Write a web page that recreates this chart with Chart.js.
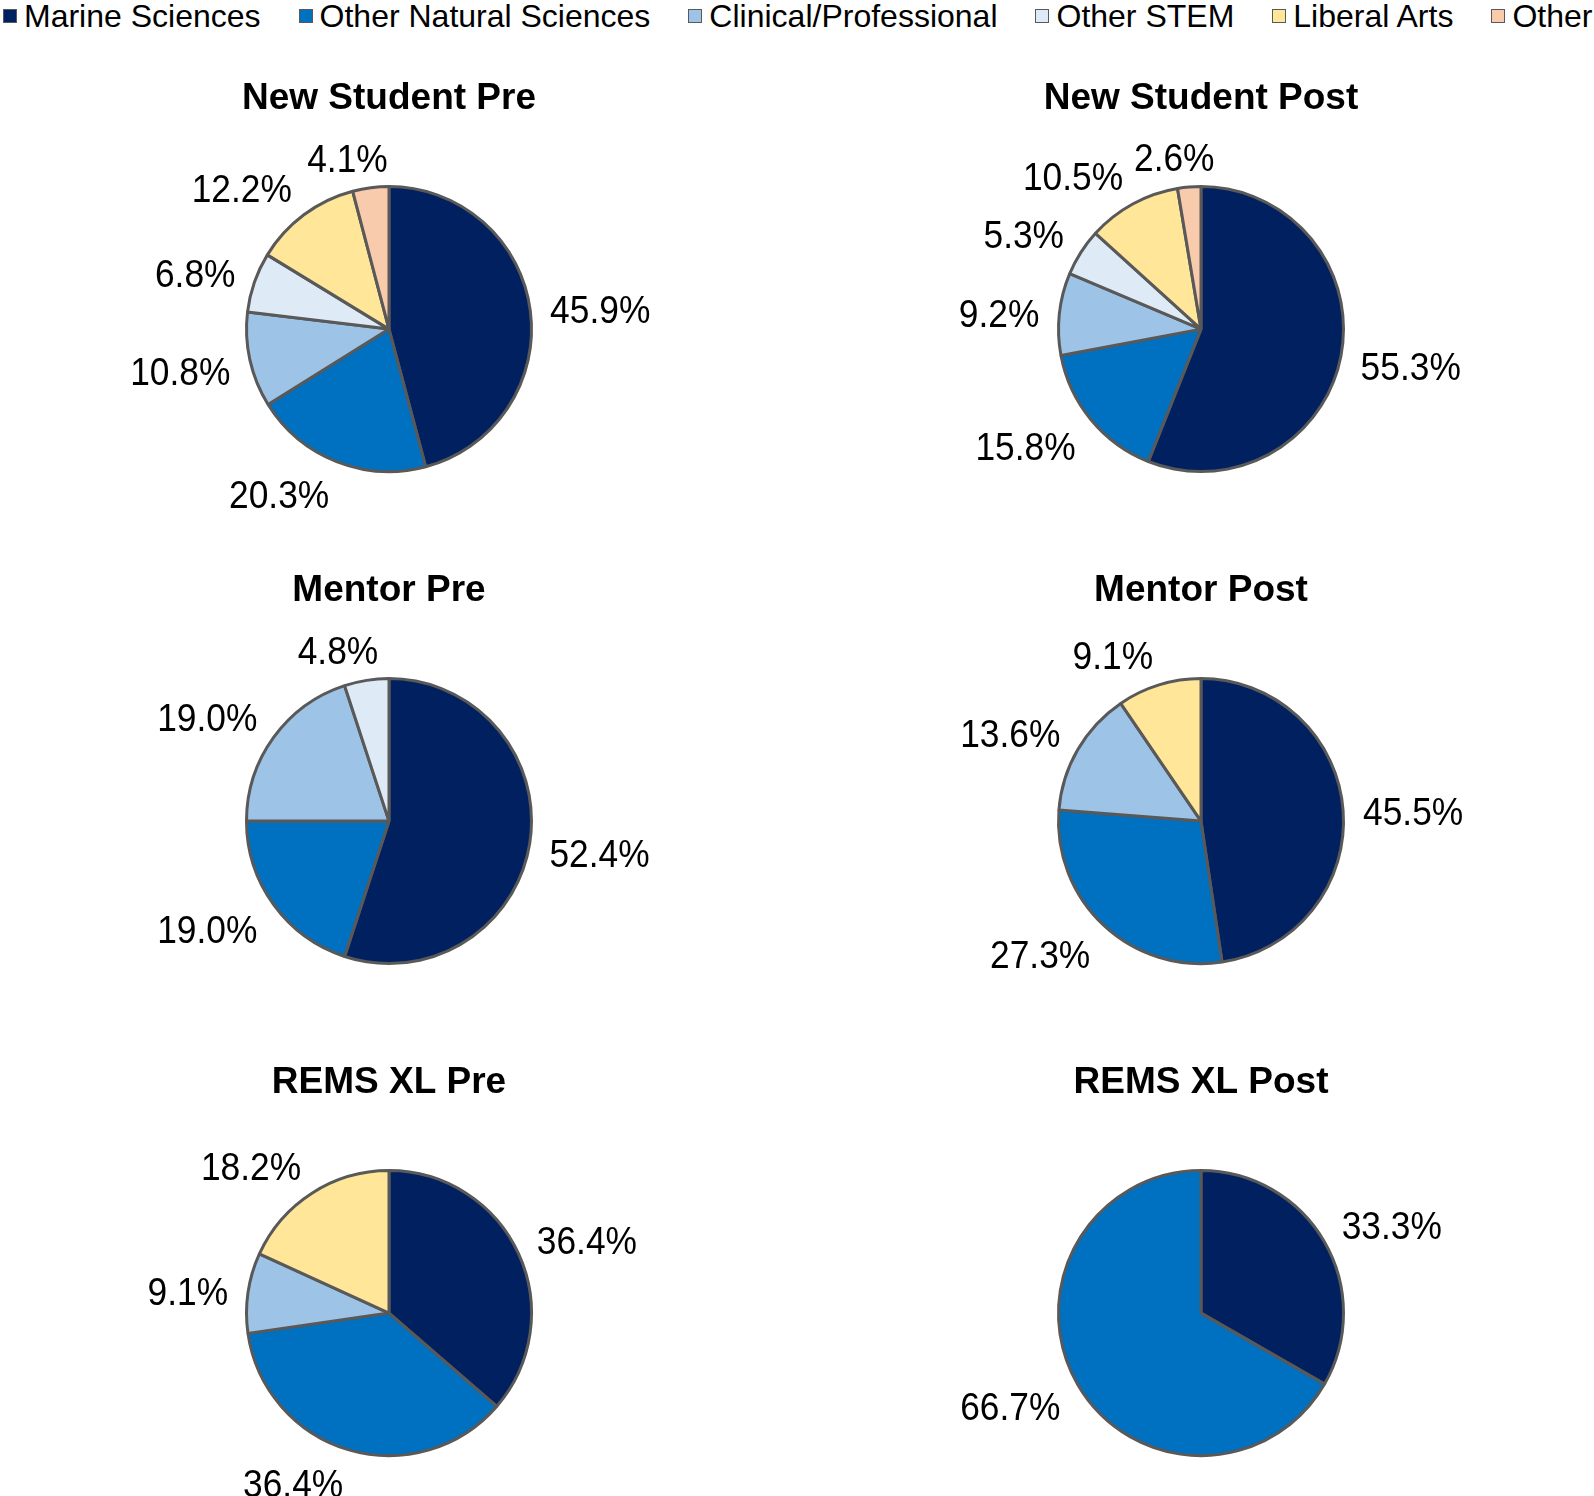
<!DOCTYPE html>
<html>
<head>
<meta charset="utf-8">
<script src="https://cdn.jsdelivr.net/npm/chart.js@4.4.1/dist/chart.umd.min.js"></script>
<style>
  html, body { margin: 0; padding: 0; background: #fff; }
  body { width: 1594px; height: 1496px; position: relative; overflow: hidden; font-family: "Liberation Sans", Arial, sans-serif; }
  #legend { position: absolute; left: 3px; top: -3px; height: 38px; display: flex; align-items: center; gap: 38px; white-space: nowrap; font-size: 32px; line-height: 38px; color: #000; }
  .item { display: flex; align-items: center; }
  .box { width: 14px; height: 14px; border: 1px solid #595959; margin-right: 7px; box-sizing: border-box; }
  canvas { position: absolute; }
</style>
</head>
<body>
<div id="legend"></div>
<canvas id="c0" width="778" height="455"></canvas>
<canvas id="c1" width="778" height="455"></canvas>
<canvas id="c2" width="778" height="455"></canvas>
<canvas id="c3" width="778" height="455"></canvas>
<canvas id="c4" width="778" height="455"></canvas>
<canvas id="c5" width="778" height="455"></canvas>
<script>
// categories + colours (same order in every pie)
const categories = ['Marine Sciences', 'Other Natural Sciences', 'Clinical/Professional', 'Other STEM', 'Liberal Arts', 'Other'];
const colors = ['#002060', '#0070C0', '#9DC3E6', '#DEEBF7', '#FFE699', '#F8CBAD'];

const chartTitles = ['New Student Pre', 'New Student Post', 'Mentor Pre', 'Mentor Post', 'REMS XL Pre', 'REMS XL Post'];

// percentages
const newStudentPre  = [45.9, 20.3, 10.8, 6.8, 12.2, 4.1];
const newStudentPost = [55.3, 15.8, 9.2, 5.3, 10.5, 2.6];
const mentorPre      = [52.4, 19.0, 19.0, 4.8, 0, 0];
const mentorPost     = [45.5, 27.3, 13.6, 0, 9.1, 0];
const remsPre        = [36.4, 36.4, 9.1, 0, 18.2, 0];
const remsPost       = [33.3, 66.7, 0, 0, 0, 0];

const allSeries = [newStudentPre, newStudentPost, mentorPre, mentorPost, remsPre, remsPost];

// legend
const legend = document.getElementById('legend');
legend.innerHTML = categories.map((c, i) =>
    `<span class="item"><span class="box" style="background:${colors[i]}"></span>${c}</span>`
).join('');

// canvas placement: 2 columns x 3 rows
const colCenters = [389.4, 1200.6];
const titleTops = [77.3, 569.4, 1061.4];
allSeries.forEach((_, i) => {
    const cv = document.getElementById('c' + i);
    cv.style.left = (colCenters[i % 2] - 389) + 'px';
    cv.style.top = titleTops[Math.floor(i / 2)] + 'px';
});

// outside-end labels, excel style
const outsideLabels = {
    id: 'outsideLabels',
    afterDatasetsDraw(chart) {
        const ctx = chart.ctx;
        const meta = chart.getDatasetMeta(0);
        const values = chart.data.datasets[0].data;
        const sx = 0.93; // labels are a bit condensed
        ctx.save();
        ctx.font = '38px "Liberation Sans", Arial, sans-serif';
        ctx.fillStyle = '#000';
        ctx.textAlign = 'center';
        ctx.textBaseline = 'alphabetic';
        const clamp = v => Math.max(-1, Math.min(1, v));
        meta.data.forEach((arc, i) => {
            if (!values[i]) return;
            const p = arc.getProps(['x', 'y', 'startAngle', 'endAngle', 'outerRadius'], true);
            const mid = (p.startAngle + p.endAngle) / 2;
            const ux = Math.cos(mid), uy = Math.sin(mid);
            const txt = values[i].toFixed(1) + '%';
            const w = ctx.measureText(txt).width * sx;
            const d = p.outerRadius + 20;
            const kx = clamp(ux * 4), ky = clamp(uy * 1.5);
            const cx = p.x + ux * d + kx * w / 2;
            const cy = p.y + uy * d + ky * 14 + 4 * (1 - Math.max(0, ky));
            ctx.save();
            ctx.translate(cx, cy + 13.6);
            ctx.scale(sx, 1);
            ctx.fillText(txt, 0, 0);
            ctx.restore();
        });
        ctx.restore();
    }
};

allSeries.forEach((series, i) => {
    new Chart(document.getElementById('c' + i), {
        type: 'pie',
        data: {
            labels: categories,
            datasets: [{
                data: series,
                backgroundColor: colors,
                borderColor: '#595959',
                borderWidth: 3,
                radius: 142.5
            }]
        },
        options: {
            responsive: false,
            animation: false,
            devicePixelRatio: 1,
            layout: { padding: 0 },
            plugins: {
                legend: { display: false },
                tooltip: { enabled: false },
                title: {
                    display: true,
                    text: chartTitles[i],
                    color: '#000',
                    font: { family: '"Liberation Sans", Arial, sans-serif', size: 37, weight: 'bold', lineHeight: 1.2 },
                    padding: { top: 0, bottom: 4.8 }
                }
            }
        },
        plugins: [outsideLabels]
    });
});
</script>
</body>
</html>
